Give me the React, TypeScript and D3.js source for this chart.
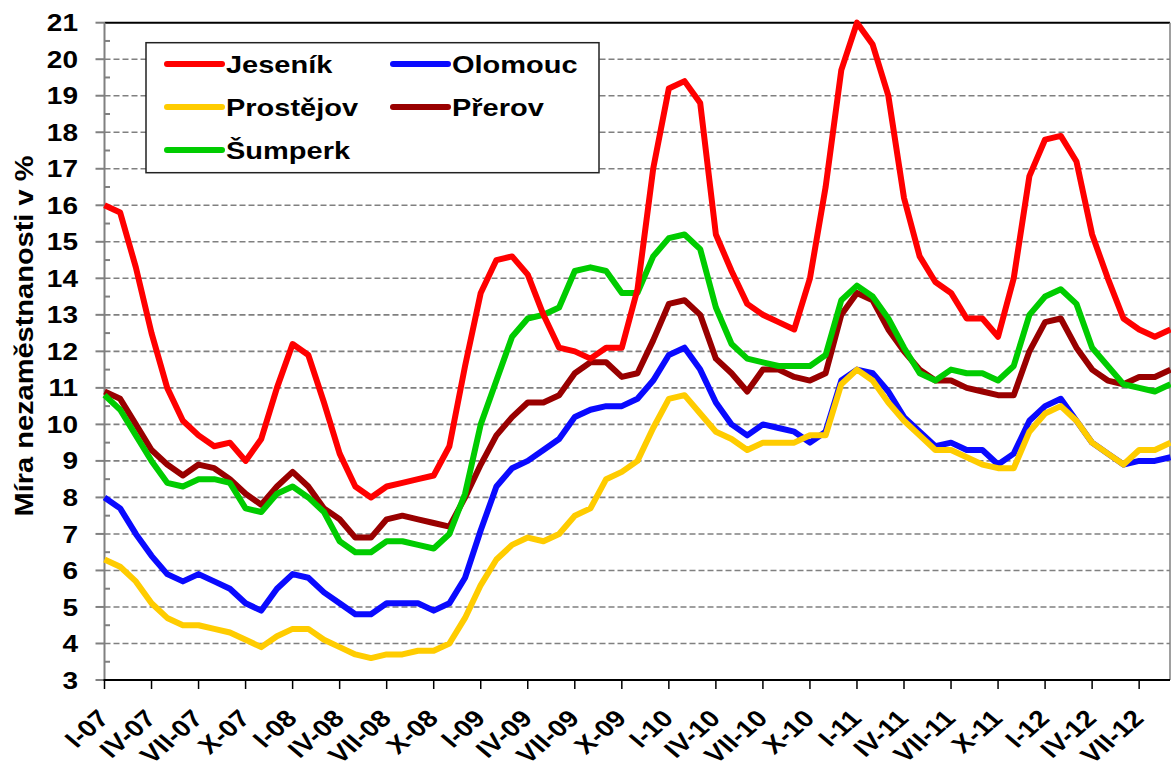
import React from 'react';
import * as d3 from 'd3';

// monthly unemployment rate (%), I-07 .. IX-12
const jesenik = [
  16.0, 15.8, 14.3, 12.5, 11.0, 10.1, 9.7, 9.4, 9.5, 9.0, 9.6, 11.0,
  12.2, 11.9, 10.6, 9.2, 8.3, 8.0, 8.3, 8.4, 8.5, 8.6, 9.4, 11.6,
  13.6, 14.5, 14.6, 14.1, 13.0, 12.1, 12.0, 11.8, 12.1, 12.1, 13.7, 17.0,
  19.2, 19.4, 18.8, 15.2, 14.2, 13.3, 13.0, 12.8, 12.6, 14.0, 16.5, 19.7,
  21.0, 20.4, 19.0, 16.2, 14.6, 13.9, 13.6, 12.9, 12.9, 12.4, 14.0, 16.8,
  17.8, 17.9, 17.2, 15.2, 14.0, 12.9, 12.6, 12.4, 12.6,
];
const olomouc = [
  8.0, 7.7, 7.0, 6.4, 5.9, 5.7, 5.9, 5.7, 5.5, 5.1, 4.9, 5.5,
  5.9, 5.8, 5.4, 5.1, 4.8, 4.8, 5.1, 5.1, 5.1, 4.9, 5.1, 5.8,
  7.1, 8.3, 8.8, 9.0, 9.3, 9.6, 10.2, 10.4, 10.5, 10.5, 10.7, 11.2,
  11.9, 12.1, 11.5, 10.6, 10.0, 9.7, 10.0, 9.9, 9.8, 9.5, 9.8, 11.2,
  11.5, 11.4, 10.9, 10.2, 9.8, 9.4, 9.5, 9.3, 9.3, 8.9, 9.2, 10.1,
  10.5, 10.7, 10.1, 9.5, 9.2, 8.9, 9.0, 9.0, 9.1,
];
const prostejov = [
  6.3, 6.1, 5.7, 5.1, 4.7, 4.5, 4.5, 4.4, 4.3, 4.1, 3.9, 4.2,
  4.4, 4.4, 4.1, 3.9, 3.7, 3.6, 3.7, 3.7, 3.8, 3.8, 4.0, 4.7,
  5.6, 6.3, 6.7, 6.9, 6.8, 7.0, 7.5, 7.7, 8.5, 8.7, 9.0, 9.9,
  10.7, 10.8, 10.3, 9.8, 9.6, 9.3, 9.5, 9.5, 9.5, 9.7, 9.7, 11.1,
  11.5, 11.2, 10.6, 10.1, 9.7, 9.3, 9.3, 9.1, 8.9, 8.8, 8.8, 9.8,
  10.3, 10.5, 10.1, 9.5, 9.2, 8.9, 9.3, 9.3, 9.5,
];
const prerov = [
  10.9, 10.7, 10.0, 9.3, 8.9, 8.6, 8.9, 8.8, 8.5, 8.1, 7.8, 8.3,
  8.7, 8.3, 7.7, 7.4, 6.9, 6.9, 7.4, 7.5, 7.4, 7.3, 7.2, 8.0,
  8.9, 9.7, 10.2, 10.6, 10.6, 10.8, 11.4, 11.7, 11.7, 11.3, 11.4, 12.3,
  13.3, 13.4, 13.0, 11.8, 11.4, 10.9, 11.5, 11.5, 11.3, 11.2, 11.4, 13.0,
  13.6, 13.4, 12.6, 12.0, 11.5, 11.2, 11.2, 11.0, 10.9, 10.8, 10.8, 12.0,
  12.8, 12.9, 12.1, 11.5, 11.2, 11.1, 11.3, 11.3, 11.5,
];
const sumperk = [
  10.8, 10.4, 9.7, 9.0, 8.4, 8.3, 8.5, 8.5, 8.4, 7.7, 7.6, 8.1,
  8.3, 8.0, 7.6, 6.8, 6.5, 6.5, 6.8, 6.8, 6.7, 6.6, 7.0, 8.1,
  10.0, 11.2, 12.4, 12.9, 13.0, 13.2, 14.2, 14.3, 14.2, 13.6, 13.6, 14.6,
  15.1, 15.2, 14.8, 13.2, 12.2, 11.8, 11.7, 11.6, 11.6, 11.6, 11.9, 13.4,
  13.8, 13.5, 12.9, 12.1, 11.4, 11.2, 11.5, 11.4, 11.4, 11.2, 11.6, 13.0,
  13.5, 13.7, 13.3, 12.1, 11.6, 11.1, 11.0, 10.9, 11.1,
];

const tickLabels = [
  'I-07', 'IV-07', 'VII-07', 'X-07', 'I-08', 'IV-08', 'VII-08', 'X-08',
  'I-09', 'IV-09', 'VII-09', 'X-09', 'I-10', 'IV-10', 'VII-10', 'X-10',
  'I-11', 'IV-11', 'VII-11', 'X-11', 'I-12', 'IV-12', 'VII-12',
];

const seriesNames = ['Jeseník', 'Olomouc', 'Prostějov', 'Přerov', 'Šumperk'];
const seriesColors = ['#ff0000', '#0a0aff', '#ffcc00', '#990000', '#00cc00'];
const seriesData = [jesenik, olomouc, prostejov, prerov, sumperk];
// painting order (last on top)
const drawOrder = [1, 2, 3, 4, 0];

const yTicks = d3.range(3, 22);

const W = 1171;
const H = 771;
const FONT = '"Liberation Sans", Arial, sans-serif';
const SY = 0.85; // text is a bit squashed vertically in the original

export default function App() {
  const x = d3.scaleLinear().domain([0, jesenik.length - 1]).range([104.5, 1170.5]);
  const y = d3.scaleLinear().domain([3, 21]).range([680, 22.7]);
  const left = 104.5;
  const right = 1170;

  const line = d3
    .line<number>()
    .x((_, i) => x(i))
    .y((d) => y(d));

  const legendItems = [
    { s: 0, lx: 167, ly: 64 },
    { s: 1, lx: 393, ly: 64 },
    { s: 2, lx: 167, ly: 107 },
    { s: 3, lx: 393, ly: 107 },
    { s: 4, lx: 167, ly: 150 },
  ];

  return (
    <svg
      width={W}
      height={H}
      style={{ position: 'absolute', left: 0, top: 0, background: '#fff' }}
      fontFamily={FONT}
    >
      {/* gridlines */}
      {yTicks
        .filter((v) => v > 3 && v < 21)
        .map((v) => (
          <line
            key={'g' + v}
            x1={left}
            x2={right}
            y1={y(v)}
            y2={y(v)}
            stroke="#808080"
            strokeWidth={1.6}
            strokeDasharray="6,3"
          />
        ))}

      {/* frame */}
      <line x1={left} x2={right} y1={y(21)} y2={y(21)} stroke="#000" strokeWidth={2} />
      <line x1={right} x2={right} y1={y(21)} y2={y(3)} stroke="#808080" strokeWidth={1.5} />

      {/* y axis */}
      <line x1={left} x2={left} y1={y(21)} y2={y(3)} stroke="#808080" strokeWidth={2} />
      {yTicks.map((v) => (
        <line key={'t' + v} x1={95.5} x2={left} y1={y(v)} y2={y(v)} stroke="#808080" strokeWidth={2} />
      ))}
      {yTicks.slice(0, -1).map((v) => (
        <line
          key={'m' + v}
          x1={left}
          x2={110}
          y1={y(v + 0.5)}
          y2={y(v + 0.5)}
          stroke="#808080"
          strokeWidth={2}
        />
      ))}
      {yTicks.map((v) => (
        <text
          key={'l' + v}
          transform={`translate(78,${y(v)}) scale(1,${SY})`}
          dy="0.36em"
          textAnchor="end"
          fontSize={28}
          fontWeight="bold"
          fill="#000"
        >
          {v}
        </text>
      ))}
      <text
        transform={`translate(33,336) rotate(-90) scale(1,0.9)`}
        textAnchor="middle"
        fontSize={29}
        fontWeight="bold"
        fill="#000"
      >
        Míra nezaměstnanosti v %
      </text>

      {/* x axis */}
      <line x1={left - 1} x2={right} y1={y(3)} y2={y(3)} stroke="#000" strokeWidth={2} />
      {tickLabels.map((t, k) => {
        const xi = x(k * 3);
        return (
          <g key={t}>
            <line x1={xi} x2={xi} y1={y(3)} y2={y(3) + 9} stroke="#000" strokeWidth={1.5} />
            <text
              transform={`translate(${xi + 6},${y(3) + 40}) scale(1,${SY}) rotate(-45)`}
              textAnchor="end"
              fontSize={28}
              fontWeight="bold"
              fill="#000"
            >
              {t}
            </text>
          </g>
        );
      })}

      {/* series */}
      {drawOrder.map((s) => (
        <path
          key={seriesNames[s]}
          d={line(seriesData[s]) || ''}
          fill="none"
          stroke={seriesColors[s]}
          strokeWidth={6}
          strokeLinejoin="round"
        />
      ))}

      {/* legend */}
      <rect x={146} y={42.7} width={453} height={130} fill="#fff" stroke="#222" strokeWidth={1.5} />
      {legendItems.map(({ s, lx, ly }) => (
        <g key={'lg' + s}>
          <line
            x1={lx}
            x2={lx + 55}
            y1={ly}
            y2={ly}
            stroke={seriesColors[s]}
            strokeWidth={6}
            strokeLinecap="round"
          />
          <text
            transform={`translate(${lx + 59},${ly}) scale(1,${SY})`}
            dy="0.36em"
            fontSize={29}
            fontWeight="bold"
            fill="#000"
          >
            {seriesNames[s]}
          </text>
        </g>
      ))}
    </svg>
  );
}
